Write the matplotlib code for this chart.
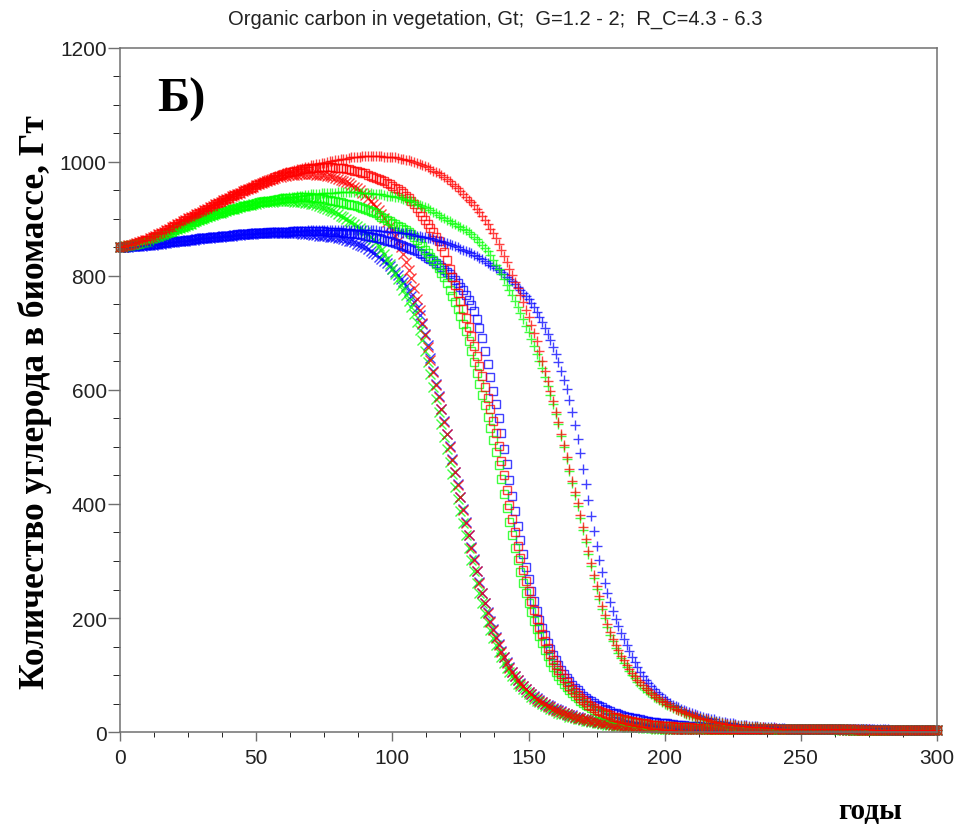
import numpy as np
import matplotlib.pyplot as plt
from matplotlib.ticker import MultipleLocator

# yearly values, t = 0 .. 300 (one line = one decade, first line t=0..10)
red_plus = [
    850, 851, 852, 854, 855, 857, 858, 860, 861, 863, 864,
    866, 869, 871, 874, 876, 878, 881, 883, 886, 888,
    891, 893, 896, 898, 901, 904, 906, 909, 911, 914,
    916, 919, 921, 924, 926, 929, 931, 934, 936, 939,
    941, 944, 946, 948, 951, 953, 955, 958, 960, 962,
    964, 966, 968, 970, 972, 973, 975, 977, 978, 980,
    982, 983, 984, 986, 987, 988, 990, 991, 992, 994,
    995, 996, 997, 998, 999, 1000, 1001, 1002, 1003, 1004,
    1005, 1006, 1006, 1007, 1008, 1008, 1009, 1009, 1010, 1010,
    1010, 1010, 1010, 1010, 1010, 1010, 1009, 1009, 1009, 1008,
    1008, 1007, 1006, 1005, 1004, 1003, 1002, 1000, 999, 997,
    995, 993, 991, 988, 985, 983, 980, 977, 974, 970,
    966, 962, 958, 954, 949, 944, 939, 934, 929, 924,
    918, 912, 905, 898, 891, 883, 875, 866, 856, 846,
    835, 824, 813, 802, 790, 779, 767, 754, 741, 728,
    714, 700, 686, 668, 651, 634, 616, 598, 580, 562,
    543, 523, 503, 482, 461, 441, 421, 402, 381, 359,
    338, 317, 296, 275, 256, 238, 221, 205, 190, 176,
    164, 153, 143, 134, 126, 118, 111, 104, 98, 92,
    87, 82, 77, 73, 69, 65, 61, 58, 55, 52,
    49, 46, 44, 41, 39, 37, 35, 33, 31, 29,
    28, 26, 25, 23, 22, 21, 19, 18, 17, 16,
    15, 14, 14, 13, 12, 12, 11, 11, 10, 10,
    9, 9, 9, 8, 8, 8, 7, 7, 7, 7,
    7, 6, 6, 6, 6, 6, 6, 5, 5, 5,
    5, 5, 5, 5, 5, 5, 5, 5, 5, 5,
    5, 5, 5, 5, 5, 5, 5, 5, 5, 5,
    5, 5, 5, 5, 5, 4, 4, 4, 4, 4,
    4, 4, 4, 4, 4, 4, 4, 4, 4, 4,
    4, 4, 4, 4, 4, 4, 4, 4, 4, 4,
]

green_plus = [
    850, 851, 852, 853, 854, 855, 856, 857, 858, 859, 860,
    862, 864, 866, 868, 870, 872, 874, 876, 878, 880,
    882, 884, 886, 888, 890, 892, 894, 896, 898, 900,
    902, 903, 905, 907, 908, 910, 911, 913, 914, 916,
    917, 918, 920, 921, 922, 923, 924, 925, 927, 928,
    929, 930, 931, 931, 932, 933, 934, 935, 936, 937,
    937, 938, 939, 939, 940, 941, 941, 942, 942, 943,
    943, 944, 944, 945, 945, 945, 946, 946, 946, 947,
    947, 947, 947, 947, 947, 947, 947, 946, 946, 946,
    945, 945, 944, 944, 943, 943, 942, 941, 941, 940,
    939, 938, 937, 935, 934, 933, 931, 929, 927, 925,
    923, 921, 919, 916, 913, 910, 907, 904, 901, 898,
    896, 893, 891, 888, 886, 883, 880, 877, 873, 869,
    865, 860, 855, 849, 843, 836, 828, 820, 812, 803,
    794, 785, 776, 766, 756, 746, 735, 724, 713, 701,
    689, 677, 664, 651, 638, 623, 607, 591, 575, 558,
    540, 520, 500, 479, 458, 437, 416, 396, 375, 354,
    333, 312, 291, 271, 251, 233, 216, 200, 185, 171,
    159, 148, 138, 129, 121, 114, 107, 100, 94, 88,
    83, 78, 74, 70, 66, 62, 59, 56, 53, 50,
    47, 45, 42, 40, 38, 36, 34, 32, 30, 28,
    27, 25, 24, 22, 21, 20, 19, 18, 17, 16,
    15, 14, 13, 13, 12, 11, 11, 10, 10, 9,
    9, 9, 8, 8, 8, 7, 7, 7, 7, 6,
    6, 6, 6, 6, 6, 6, 5, 5, 5, 5,
    5, 5, 5, 5, 5, 5, 5, 5, 5, 5,
    5, 5, 5, 5, 5, 5, 5, 5, 5, 5,
    5, 5, 5, 5, 4, 4, 4, 4, 4, 4,
    4, 4, 4, 4, 4, 4, 4, 4, 4, 4,
    4, 4, 4, 4, 4, 4, 4, 4, 4, 4,
]

blue_plus = [
    850, 850, 851, 851, 852, 852, 852, 853, 853, 854, 854,
    855, 855, 856, 856, 857, 858, 858, 859, 859, 860,
    861, 861, 862, 862, 863, 864, 864, 865, 865, 866,
    866, 867, 867, 868, 868, 869, 869, 870, 870, 871,
    871, 872, 872, 872, 873, 873, 874, 874, 874, 875,
    875, 875, 876, 876, 876, 877, 877, 877, 877, 878,
    878, 878, 878, 879, 879, 879, 879, 879, 880, 880,
    880, 880, 880, 880, 881, 881, 881, 881, 881, 881,
    881, 881, 881, 881, 881, 881, 881, 881, 881, 881,
    880, 880, 880, 880, 879, 879, 879, 878, 878, 878,
    877, 877, 876, 875, 875, 874, 873, 872, 871, 870,
    869, 868, 867, 866, 865, 864, 862, 861, 859, 858,
    856, 854, 852, 850, 848, 846, 844, 842, 840, 837,
    835, 832, 829, 826, 823, 820, 817, 814, 811, 807,
    803, 799, 795, 791, 786, 781, 776, 771, 765, 759,
    752, 745, 737, 728, 719, 709, 699, 688, 676, 663,
    649, 634, 618, 601, 582, 561, 538, 514, 489, 462,
    435, 407, 379, 352, 326, 302, 280, 261, 244, 228,
    213, 199, 186, 174, 163, 152, 142, 132, 123, 114,
    106, 98, 92, 86, 80, 75, 70, 66, 62, 58,
    55, 51, 48, 46, 43, 41, 39, 37, 35, 33,
    31, 30, 28, 27, 25, 24, 23, 22, 20, 19,
    18, 17, 16, 16, 15, 14, 13, 13, 12, 12,
    11, 11, 10, 10, 9, 9, 9, 8, 8, 8,
    7, 7, 7, 7, 6, 6, 6, 6, 6, 6,
    6, 6, 6, 5, 5, 5, 5, 5, 5, 5,
    5, 5, 5, 5, 5, 5, 5, 5, 5, 5,
    5, 5, 5, 5, 5, 5, 5, 5, 5, 5,
    5, 5, 4, 4, 4, 4, 4, 4, 4, 4,
    4, 4, 4, 4, 4, 4, 4, 4, 4, 4,
]

red_sq = [
    850, 851, 852, 854, 855, 857, 858, 860, 861, 863, 864,
    866, 869, 871, 874, 876, 878, 881, 883, 886, 888,
    891, 893, 896, 898, 901, 903, 906, 908, 911, 913,
    916, 918, 921, 923, 926, 928, 930, 933, 935, 937,
    940, 942, 944, 946, 949, 951, 953, 955, 957, 959,
    961, 963, 965, 967, 969, 971, 973, 975, 977, 979,
    980, 982, 983, 984, 985, 986, 987, 988, 989, 989,
    990, 990, 991, 991, 991, 991, 991, 991, 990, 990,
    989, 989, 988, 987, 986, 985, 984, 983, 981, 980,
    978, 976, 974, 972, 970, 968, 966, 963, 961, 958,
    955, 952, 949, 945, 941, 937, 932, 926, 919, 912,
    905, 898, 891, 884, 877, 869, 861, 852, 842, 828,
    812, 798, 784, 770, 756, 742, 727, 711, 695, 678,
    660, 642, 624, 605, 586, 566, 545, 524, 501, 476,
    450, 424, 398, 374, 350, 327, 305, 284, 265, 247,
    230, 214, 199, 185, 172, 159, 147, 136, 126, 117,
    109, 101, 94, 87, 81, 75, 70, 65, 60, 56,
    52, 48, 45, 42, 39, 37, 35, 33, 31, 29,
    27, 26, 24, 23, 22, 21, 20, 19, 18, 17,
    16, 15, 15, 14, 13, 13, 12, 12, 11, 11,
    10, 10, 10, 9, 9, 9, 8, 8, 8, 8,
    7, 7, 7, 7, 7, 6, 6, 6, 6, 6,
    6, 6, 6, 6, 6, 6, 6, 6, 6, 6,
    6, 6, 6, 6, 6, 5, 5, 5, 5, 5,
    5, 5, 5, 5, 5, 5, 5, 5, 5, 5,
    5, 5, 5, 5, 5, 5, 5, 5, 5, 5,
    5, 5, 5, 5, 5, 5, 5, 5, 5, 5,
    4, 4, 4, 4, 4, 4, 4, 4, 4, 4,
    4, 4, 4, 4, 4, 4, 4, 4, 4, 4,
    4, 4, 4, 4, 4, 4, 4, 4, 4, 4,
]

green_sq = [
    850, 851, 852, 853, 854, 855, 856, 857, 858, 859, 860,
    862, 864, 866, 868, 870, 872, 874, 876, 878, 880,
    882, 884, 886, 888, 890, 892, 894, 896, 898, 900,
    902, 903, 905, 907, 908, 910, 911, 913, 914, 916,
    917, 918, 920, 921, 922, 923, 924, 925, 927, 928,
    929, 930, 931, 931, 932, 933, 934, 935, 935, 936,
    936, 937, 937, 937, 938, 938, 938, 938, 938, 938,
    937, 937, 936, 936, 935, 934, 933, 932, 931, 930,
    929, 928, 927, 926, 925, 924, 922, 921, 920, 918,
    916, 914, 912, 910, 907, 904, 902, 899, 896, 893,
    891, 888, 886, 883, 881, 878, 874, 869, 864, 858,
    852, 846, 840, 834, 828, 821, 814, 806, 798, 787,
    776, 765, 754, 742, 729, 716, 703, 686, 668, 649,
    630, 611, 592, 573, 553, 533, 512, 491, 469, 444,
    418, 393, 369, 345, 322, 301, 280, 261, 243, 226,
    210, 195, 181, 168, 156, 144, 133, 123, 114, 106,
    98, 91, 85, 79, 73, 68, 63, 59, 55, 51,
    48, 45, 42, 39, 37, 34, 32, 30, 29, 27,
    25, 24, 23, 22, 21, 20, 19, 18, 17, 16,
    15, 15, 14, 13, 13, 12, 12, 11, 11, 10,
    10, 10, 9, 9, 9, 8, 8, 8, 8, 7,
    7, 7, 7, 7, 6, 6, 6, 6, 6, 6,
    6, 6, 6, 6, 6, 6, 6, 6, 6, 6,
    6, 6, 6, 5, 5, 5, 5, 5, 5, 5,
    5, 5, 5, 5, 5, 5, 5, 5, 5, 5,
    5, 5, 5, 5, 5, 5, 5, 5, 5, 5,
    5, 5, 5, 5, 5, 5, 5, 5, 4, 4,
    4, 4, 4, 4, 4, 4, 4, 4, 4, 4,
    4, 4, 4, 4, 4, 4, 4, 4, 4, 4,
    4, 4, 4, 4, 4, 4, 4, 4, 4, 4,
]

blue_sq = [
    850, 850, 851, 851, 852, 852, 853, 853, 854, 854, 855,
    855, 856, 856, 857, 858, 858, 859, 859, 860, 861,
    861, 862, 862, 863, 864, 864, 865, 865, 866, 866,
    867, 867, 868, 868, 869, 869, 870, 870, 871, 871,
    872, 872, 873, 873, 873, 874, 874, 875, 875, 875,
    876, 876, 876, 877, 877, 877, 877, 878, 878, 878,
    878, 878, 879, 879, 879, 879, 879, 879, 879, 879,
    879, 879, 879, 879, 879, 878, 878, 878, 878, 877,
    877, 876, 876, 875, 875, 874, 873, 873, 872, 871,
    870, 869, 868, 867, 866, 865, 864, 862, 861, 860,
    858, 857, 855, 853, 851, 849, 847, 845, 843, 840,
    838, 835, 832, 829, 826, 823, 819, 815, 811, 807,
    803, 798, 793, 787, 781, 775, 767, 758, 749, 738,
    725, 709, 691, 668, 646, 623, 599, 575, 550, 524,
    497, 470, 442, 414, 387, 361, 336, 312, 289, 268,
    248, 230, 213, 197, 183, 170, 157, 146, 135, 126,
    117, 109, 102, 95, 89, 83, 78, 73, 68, 64,
    60, 57, 54, 51, 48, 45, 43, 40, 38, 36,
    34, 33, 31, 30, 28, 27, 26, 25, 24, 23,
    22, 21, 20, 19, 18, 18, 17, 16, 16, 15,
    15, 14, 14, 13, 13, 12, 12, 11, 11, 11,
    10, 10, 10, 9, 9, 9, 9, 8, 8, 8,
    8, 7, 7, 7, 7, 7, 6, 6, 6, 6,
    6, 6, 6, 6, 6, 6, 6, 6, 6, 6,
    6, 6, 6, 5, 5, 5, 5, 5, 5, 5,
    5, 5, 5, 5, 5, 5, 5, 5, 5, 5,
    5, 5, 5, 5, 5, 5, 5, 5, 5, 5,
    5, 5, 5, 5, 5, 4, 4, 4, 4, 4,
    4, 4, 4, 4, 4, 4, 4, 4, 4, 4,
    4, 4, 4, 4, 4, 4, 4, 4, 4, 4,
]

red_x = [
    850, 851, 852, 854, 855, 857, 858, 860, 861, 863, 864,
    866, 869, 871, 874, 876, 878, 881, 883, 886, 888,
    891, 893, 896, 898, 901, 903, 906, 908, 911, 913,
    916, 918, 921, 923, 926, 928, 930, 933, 935, 937,
    940, 942, 944, 946, 949, 951, 953, 955, 957, 959,
    961, 963, 965, 967, 968, 970, 972, 973, 974, 975,
    976, 977, 977, 978, 978, 979, 979, 979, 979, 979,
    979, 978, 978, 977, 977, 976, 975, 974, 972, 971,
    969, 967, 965, 963, 960, 957, 954, 950, 946, 942,
    937, 932, 927, 921, 915, 909, 902, 895, 888, 880,
    871, 861, 850, 838, 825, 811, 796, 779, 760, 740,
    718, 697, 675, 653, 631, 609, 588, 566, 544, 522,
    500, 478, 456, 434, 412, 390, 367, 345, 323, 302,
    282, 262, 243, 226, 209, 193, 179, 165, 153, 141,
    131, 121, 113, 105, 98, 91, 85, 80, 75, 70,
    66, 62, 58, 55, 52, 49, 46, 44, 41, 39,
    37, 35, 33, 31, 30, 28, 27, 25, 24, 23,
    22, 21, 20, 19, 18, 17, 16, 15, 15, 14,
    13, 13, 12, 12, 11, 11, 10, 10, 10, 9,
    9, 9, 8, 8, 8, 8, 7, 7, 7, 7,
    7, 6, 6, 6, 6, 6, 6, 6, 5, 5,
    5, 5, 5, 5, 5, 5, 5, 5, 5, 5,
    5, 5, 5, 5, 5, 5, 5, 5, 5, 5,
    5, 5, 5, 5, 5, 5, 5, 5, 5, 5,
    5, 5, 5, 5, 5, 5, 5, 5, 5, 5,
    5, 5, 5, 5, 5, 5, 5, 5, 5, 5,
    5, 5, 5, 5, 5, 4, 4, 4, 4, 4,
    4, 4, 4, 4, 4, 4, 4, 4, 4, 4,
    4, 4, 4, 4, 4, 4, 4, 4, 4, 4,
    4, 4, 4, 4, 4, 4, 4, 4, 4, 4,
]

green_x = [
    850, 851, 852, 853, 854, 855, 856, 857, 858, 859, 860,
    862, 864, 866, 868, 870, 872, 874, 876, 878, 880,
    882, 884, 886, 888, 890, 892, 894, 896, 898, 900,
    902, 903, 905, 907, 908, 910, 911, 913, 914, 916,
    917, 918, 920, 921, 922, 923, 924, 925, 926, 927,
    928, 929, 929, 930, 930, 930, 931, 931, 931, 931,
    931, 931, 931, 930, 930, 930, 929, 928, 928, 927,
    926, 924, 923, 921, 920, 918, 916, 914, 912, 909,
    906, 903, 900, 897, 894, 891, 888, 885, 881, 878,
    874, 869, 865, 859, 853, 846, 838, 830, 821, 812,
    803, 794, 785, 776, 766, 756, 745, 733, 720, 705,
    688, 669, 649, 628, 606, 584, 562, 540, 518, 496,
    474, 452, 430, 409, 388, 367, 345, 323, 302, 282,
    262, 243, 226, 209, 193, 179, 165, 153, 141, 131,
    121, 113, 105, 98, 91, 85, 80, 75, 70, 66,
    62, 58, 55, 52, 49, 46, 43, 41, 38, 36,
    34, 32, 31, 29, 27, 26, 24, 23, 22, 21,
    20, 19, 18, 17, 16, 15, 14, 14, 13, 12,
    12, 11, 11, 10, 10, 9, 9, 9, 8, 8,
    8, 7, 7, 7, 7, 7, 6, 6, 6, 6,
    6, 6, 6, 6, 6, 6, 5, 5, 5, 5,
    5, 5, 5, 5, 5, 5, 5, 5, 5, 5,
    5, 5, 5, 5, 5, 5, 5, 5, 5, 5,
    5, 5, 5, 5, 5, 5, 5, 5, 5, 5,
    5, 5, 5, 5, 5, 5, 5, 5, 5, 5,
    5, 5, 5, 5, 5, 5, 5, 5, 5, 5,
    5, 5, 5, 4, 4, 4, 4, 4, 4, 4,
    4, 4, 4, 4, 4, 4, 4, 4, 4, 4,
    4, 4, 4, 4, 4, 4, 4, 4, 4, 4,
    4, 4, 4, 4, 4, 4, 4, 4, 4, 4,
]

blue_x = [
    850, 850, 851, 851, 852, 852, 852, 853, 853, 854, 854,
    855, 855, 856, 856, 857, 858, 858, 859, 859, 860,
    861, 861, 862, 862, 863, 864, 864, 865, 865, 866,
    866, 867, 867, 868, 868, 869, 869, 870, 870, 871,
    871, 872, 872, 872, 873, 873, 874, 874, 874, 875,
    875, 875, 876, 876, 876, 876, 876, 876, 876, 876,
    876, 876, 876, 875, 875, 875, 874, 874, 873, 873,
    872, 872, 871, 871, 870, 870, 869, 869, 868, 867,
    866, 865, 864, 862, 861, 859, 857, 855, 853, 850,
    847, 844, 841, 838, 834, 830, 826, 822, 817, 812,
    807, 801, 795, 789, 782, 774, 765, 755, 744, 731,
    716, 699, 679, 657, 634, 611, 589, 567, 545, 523,
    501, 479, 457, 435, 413, 391, 368, 346, 324, 303,
    283, 263, 244, 227, 210, 194, 180, 166, 154, 142,
    132, 122, 114, 106, 99, 92, 86, 81, 76, 71,
    67, 63, 59, 56, 53, 50, 47, 45, 42, 40,
    38, 36, 34, 32, 30, 29, 27, 26, 25, 23,
    22, 21, 20, 19, 18, 17, 16, 16, 15, 14,
    14, 13, 13, 12, 12, 11, 11, 10, 10, 10,
    9, 9, 9, 8, 8, 8, 8, 7, 7, 7,
    7, 7, 6, 6, 6, 6, 6, 6, 6, 6,
    6, 6, 6, 5, 5, 5, 5, 5, 5, 5,
    5, 5, 5, 5, 5, 5, 5, 5, 5, 5,
    5, 5, 5, 5, 5, 5, 5, 5, 5, 5,
    5, 5, 5, 5, 5, 5, 5, 5, 5, 5,
    5, 5, 5, 5, 5, 5, 5, 5, 5, 5,
    5, 5, 5, 5, 5, 5, 4, 4, 4, 4,
    4, 4, 4, 4, 4, 4, 4, 4, 4, 4,
    4, 4, 4, 4, 4, 4, 4, 4, 4, 4,
    4, 4, 4, 4, 4, 4, 4, 4, 4, 4,
]

title = "Organic carbon in vegetation, Gt;  G=1.2 - 2;  R_C=4.3 - 6.3"
ylabel = "Количество углерода в биомассе, Гт"
xlabel = "годы"
panel = "Б)"

# (values, colour, marker) in drawing order
series = [
    (blue_x, "#0000ff", "x"), (green_x, "#00ff00", "x"), (red_x, "#ff0000", "x"),
    (blue_sq, "#0000ff", "s"), (green_sq, "#00ff00", "s"), (red_sq, "#ff0000", "s"),
    (blue_plus, "#0000ff", "+"), (green_plus, "#00ff00", "+"), (red_plus, "#ff0000", "+"),
]

fig = plt.figure(figsize=(9.57, 8.29), dpi=100)
ax = fig.add_axes([0.1254, 0.1158, 0.8537, 0.8251])

for vals, col, mk in series:
    years = np.arange(len(vals))
    ms = 5.2 if mk == "s" else 6.5
    ax.plot(years, vals, linestyle="none", marker=mk, color=col, ms=ms,
            mew=1.0, mfc="none", alpha=0.75, clip_on=False)

ax.set_xlim(0, 300)
ax.set_ylim(0, 1200)
ax.xaxis.set_major_locator(MultipleLocator(50))
ax.xaxis.set_minor_locator(MultipleLocator(12.5))
ax.yaxis.set_major_locator(MultipleLocator(200))
ax.yaxis.set_minor_locator(MultipleLocator(50))

gray = "#707070"
for s in ax.spines.values():
    s.set_color(gray)
    s.set_linewidth(1.1)
ax.tick_params(colors=gray, labelcolor="#222222", labelsize=15, width=1.0)
ax.tick_params(axis="x", which="major", length=6.5, pad=5)
ax.tick_params(axis="x", which="minor", length=3.6)
ax.tick_params(axis="y", which="major", length=8.6, pad=1)
ax.tick_params(axis="y", which="minor", length=5)
for lab in ax.get_xticklabels() + ax.get_yticklabels():
    lab.set_fontfamily("Liberation Sans")

fig.text(495 / 957, 1 - 19 / 829, title, ha="center", va="center",
         fontsize=14.5, family="Liberation Sans", color="#222222")
fig.text(35 / 957, 1 - 402 / 829, ylabel, rotation=90, ha="center", va="center",
         fontsize=25.5, family="Liberation Serif", weight="bold")
fig.text(870 / 957, 1 - 812 / 829, xlabel, ha="center", va="center",
         fontsize=21, family="Liberation Serif", weight="bold")
fig.text(181 / 957, 1 - 100 / 829, panel, ha="center", va="center",
         fontsize=35, family="Liberation Serif", weight="bold")

fig.savefig("out.png", dpi=100)
